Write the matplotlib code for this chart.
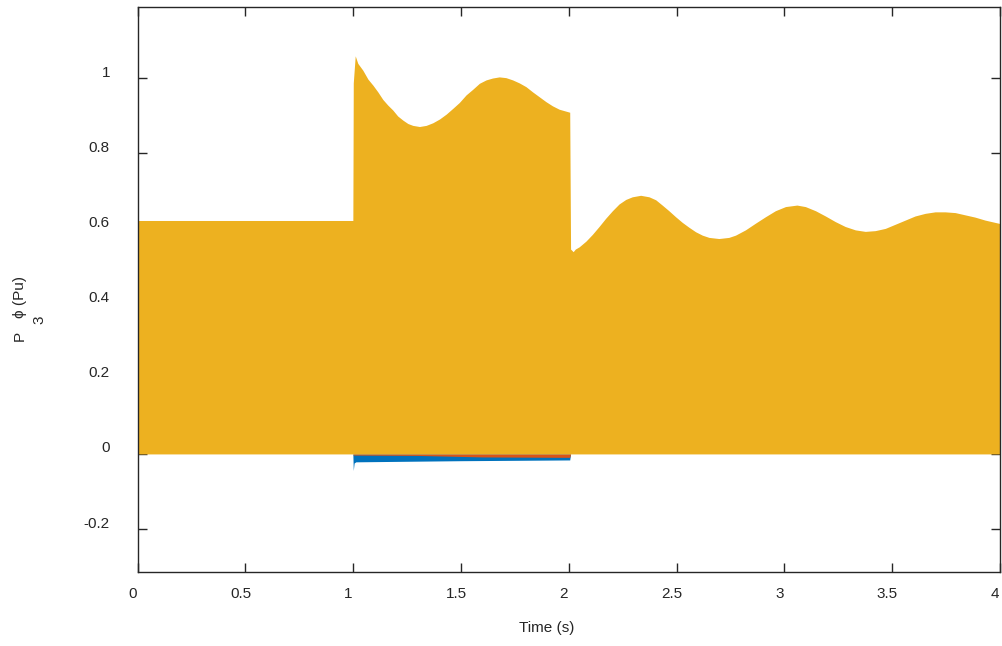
import matplotlib
matplotlib.use("Agg")
import matplotlib.pyplot as plt
import matplotlib.transforms as mtransforms

# upper envelope of the three phase powers
t_upper = [0.0, 0.5, 0.998, 1.0, 1.009, 1.021, 1.044, 1.068, 1.091, 1.114, 1.137,
           1.160, 1.183, 1.206, 1.230, 1.253, 1.276, 1.307, 1.338, 1.369, 1.400,
           1.431, 1.461, 1.492, 1.523, 1.554, 1.585, 1.616, 1.646, 1.677, 1.708,
           1.739, 1.770, 1.801, 1.832, 1.863, 1.894, 1.924, 1.955, 2.004, 2.008,
           2.02, 2.03, 2.048, 2.079, 2.109, 2.140, 2.171, 2.202, 2.233, 2.264,
           2.294, 2.333, 2.372, 2.403, 2.433, 2.464, 2.495, 2.526, 2.557, 2.588,
           2.619, 2.650, 2.696, 2.742, 2.773, 2.819, 2.866, 2.912, 2.958, 3.005,
           3.058, 3.097, 3.144, 3.190, 3.236, 3.282, 3.329, 3.375, 3.421, 3.468,
           3.514, 3.560, 3.606, 3.653, 3.699, 3.745, 3.792, 3.838, 3.884, 3.931,
           3.984, 4.0]
p_upper = [0.621, 0.621, 0.621, 0.987, 1.059, 1.039, 1.021, 0.997, 0.981, 0.963, 0.943,
           0.928, 0.915, 0.899, 0.888, 0.879, 0.874, 0.871, 0.874, 0.881, 0.891,
           0.904, 0.919, 0.935, 0.955, 0.970, 0.986, 0.995, 1.000, 1.003, 1.001,
           0.995, 0.987, 0.977, 0.963, 0.950, 0.937, 0.926, 0.917, 0.909, 0.545,
           0.538, 0.545, 0.551, 0.566, 0.584, 0.605, 0.627, 0.647, 0.665, 0.677,
           0.684, 0.688, 0.684, 0.676, 0.662, 0.647, 0.631, 0.616, 0.603, 0.591,
           0.582, 0.576, 0.573, 0.576, 0.582, 0.596, 0.614, 0.631, 0.647, 0.658,
           0.662, 0.658, 0.647, 0.633, 0.618, 0.605, 0.596, 0.592, 0.594, 0.600,
           0.611, 0.622, 0.633, 0.640, 0.644, 0.644, 0.642, 0.636, 0.630, 0.622,
           0.615, 0.613]

# lower envelopes during the fault
t_blue_low = [0.0, 0.998, 1.0, 1.004, 1.012, 1.5, 2.004, 2.008, 4.0]
p_blue_low = [0.0, 0.0, -0.044, -0.024, -0.021, -0.018, -0.016, 0.0, 0.0]
t_orange_low = [0.0, 0.998, 1.0, 1.3, 1.6, 1.95, 2.004, 2.008, 4.0]
p_orange_low = [0.0, 0.0, -0.003, -0.004, -0.008, -0.009, -0.009, 0.0, 0.0]

x_ticks = [0, 0.5, 1, 1.5, 2, 2.5, 3, 3.5, 4]
x_labels = ["0", "0.5", "1", "1.5", "2", "2.5", "3", "3.5", "4"]
y_ticks = [-0.2, 0, 0.2, 0.4, 0.6, 0.8, 1]
y_labels = ["-0.2", "0", "0.2", "0.4", "0.6", "0.8", "1"]

BLUE = "#0072BD"
ORANGE = "#D95319"
YELLOW = "#EDB120"
AXC = "#262626"
FS = 11

plt.rcParams["font.family"] = ["Liberation Sans", "DejaVu Sans"]

fig = plt.figure(figsize=(10.03, 6.46), dpi=100)
ax = fig.add_axes([0.1373, 0.1146, 0.8597, 0.8746])

ax.fill_between(t_blue_low, p_blue_low, 0, color=BLUE, lw=0, zorder=1)
ax.fill_between(t_orange_low, p_orange_low, 0, color=ORANGE, lw=0, zorder=1.1)
ax.fill_between(t_upper, 0, p_upper, color=YELLOW, lw=0, zorder=1.2)

ax.set_xlim(0, 4)
ax.set_ylim(-0.314, 1.189)
ax.set_xticks(x_ticks)
ax.set_xticklabels(x_labels)
ax.set_yticks(y_ticks)
ax.set_yticklabels(y_labels)
ax.set_axisbelow(True)

ax.tick_params(direction="in", length=6.5, width=1, colors=AXC, labelsize=FS,
               top=True, right=True)
ax.tick_params(axis="y", pad=20)
ax.tick_params(axis="x", pad=11)
for s in ax.spines.values():
    s.set_color(AXC)
    s.set_linewidth(1.0)

up = mtransforms.ScaledTranslation(0, 7 / 100, fig.dpi_scale_trans)
for lab in ax.get_yticklabels():
    lab.set_transform(lab.get_transform() + up)
left = mtransforms.ScaledTranslation(-5 / 100, 0, fig.dpi_scale_trans)
for lab in ax.get_xticklabels():
    lab.set_transform(lab.get_transform() + left)

ax.set_xlabel("Time (s)", fontsize=FS, color=AXC)
ax.xaxis.set_label_coords(0.474, -0.086)

# y label drawn in pieces so the subscript sits low like the original
W, H = 1003.0, 646.0
kw = dict(rotation=90, rotation_mode="anchor", ha="left", va="baseline",
          fontsize=FS, color=AXC)
fig.text(24 / W, 1 - 341 / H, "P", **kw)
fig.text(43 / W, 1 - 324 / H, "3", **kw)
fig.text(24 / W, 1 - 318 / H, "ϕ (Pu)", **kw)

fig.savefig("out.png", dpi=100)
